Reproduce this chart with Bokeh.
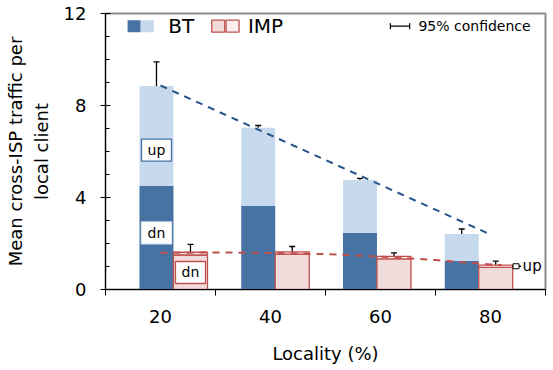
from bokeh.plotting import figure
from bokeh.models import FixedTicker, Range1d, Whisker, ColumnDataSource, TeeHead
from bokeh.core.properties import value
from bokeh.embed import file_html
from bokeh.resources import INLINE

# ---- data ----
locality = [20, 40, 60, 80]
bt_dn = [4.50, 3.64, 2.47, 1.24]
bt_up = [4.35, 3.39, 2.29, 1.17]
bt_lo = [7.88, 6.96, 4.70, 2.22]
bt_hi = [9.90, 7.13, 4.83, 2.63]
imp_dn = [1.50, 1.54, 1.33, 0.96]
imp_up = [0.12, 0.10, 0.11, 0.10]
imp_lo = [1.23, 1.38, 1.26, 0.89]
imp_hi = [1.96, 1.87, 1.59, 1.23]
bt_trend_x = [20, 80]
bt_trend_y = [8.87, 2.39]
imp_trend_x = [20, 30, 40, 50, 60, 70, 80, 82]
imp_trend_y = [1.59, 1.61, 1.59, 1.54, 1.43, 1.28, 1.09, 1.06]
y_ticks = [0, 4, 8, 12]
x_bounds = [10, 30, 50, 70, 90]

# ---- layout constants ----
FONT = "DejaVu Sans"
DARK = "#4673a3"
LIGHT = "#c6d9ed"
PINK = "#f2dcdb"
PINK_L = "#faeeee"
RED = "#c0504d"
BW = 6.18          # bar width (x units)
G0, GSTEP = 22.36, 0.925   # group centre = G0 + (loc-20)*GSTEP

grp = [G0 + (l - 20) * GSTEP for l in locality]
bt_x = [g - BW / 2 for g in grp]
imp_x = [g + BW / 2 for g in grp]
bt_tot = [a + b for a, b in zip(bt_dn, bt_up)]
imp_tot = [a + b for a, b in zip(imp_dn, imp_up)]

p = figure(width=547, height=366, x_range=Range1d(10, 90), y_range=Range1d(0, 12),
           output_backend="svg", toolbar_location=None,
           min_border_left=105, min_border_top=13, min_border_right=2, min_border_bottom=73)
p.xgrid.visible = False
p.ygrid.visible = False
p.outline_line_color = "#8c8c8c"
p.outline_line_width = 2
p.background_fill_color = "white"
p.border_fill_color = "white"

# bars
p.vbar(x=bt_x, bottom=0, top=bt_dn, width=BW, fill_color=DARK, line_color=None)
p.vbar(x=bt_x, bottom=bt_dn, top=bt_tot, width=BW, fill_color=LIGHT, line_color=None)
p.vbar(x=imp_x, bottom=0, top=imp_dn, width=BW, fill_color=PINK, line_color=RED, line_width=1.3)
p.vbar(x=imp_x, bottom=imp_dn, top=imp_tot, width=BW, fill_color=PINK_L, line_color=RED, line_width=1.3)

# trend lines
p.line(bt_trend_x, bt_trend_y, line_color="#24528a", line_width=2, line_dash="7 6")
p.line(imp_trend_x, imp_trend_y, line_color=RED, line_width=2, line_dash="7 6")

# error bars
for xs, lo, hi in [(bt_x, bt_lo, bt_hi), (imp_x, imp_lo, imp_hi)]:
    src = ColumnDataSource(dict(x=xs, lo=lo, hi=hi))
    p.add_layout(Whisker(source=src, base="x", lower="lo", upper="hi",
                         line_color="black", line_width=1.3,
                         lower_head=TeeHead(size=6, line_color="black", line_width=1.3),
                         upper_head=TeeHead(size=6, line_color="black", line_width=1.3)))

# in-bar annotations
ann_x = [bt_x[0], bt_x[0], imp_x[0]]
ann_y = [6.06, 2.46, 0.74]
ann_t = ["up", "dn", "dn"]
ann_c = [DARK, "#dfe8f3", RED]
p.rect(x=ann_x, y=ann_y, width=30, height=22, width_units="screen", height_units="screen",
       fill_color="white", line_color=ann_c, line_width=1.3)
p.text(x=ann_x, y=ann_y, text=ann_t, text_align="center", text_baseline="middle",
       text_font=value(FONT), text_font_size="14px", text_color="black")

# right 'up' callout for IMP top segment
cy = (imp_dn[3] + imp_tot[3]) / 2
cx0 = imp_x[3] + BW / 2
p.segment(x0=[cx0], y0=[cy], x1=[cx0 + 1.5], y1=[cy], line_color="black", line_width=1.3)
p.rect(x=[cx0 + 0.6], y=[cy], width=6, height=5, width_units="screen", height_units="screen",
       fill_color="white", line_color="black", line_width=1)
p.text(x=[cx0 + 1.8], y=[cy], text=["up"], text_align="left", text_baseline="middle",
       text_font=value(FONT), text_font_size="15px", text_color="black")

# legend
ly = 11.45
p.rect(x=[15.2, 17.6], y=[ly, ly], width=13, height=12, width_units="screen", height_units="screen",
       fill_color=[DARK, LIGHT], line_color=None)
p.rect(x=[30.5, 33.1], y=[ly, ly], width=13, height=12, width_units="screen", height_units="screen",
       fill_color=[PINK, PINK_L], line_color=RED, line_width=1.3)
p.text(x=[21.4, 35.9], y=[ly, ly], text=["BT", "IMP"], text_align="left", text_baseline="middle",
       text_font=value(FONT), text_font_size="20px", text_color="black")
csrc = ColumnDataSource(dict(y=[ly], lo=[61.8], hi=[65.3]))
p.add_layout(Whisker(source=csrc, base="y", lower="lo", upper="hi", dimension="width",
                     line_color="black", line_width=1.2,
                     lower_head=TeeHead(size=6, line_color="black", line_width=1.2),
                     upper_head=TeeHead(size=6, line_color="black", line_width=1.2)))
p.text(x=[66.9], y=[ly], text=["95% confidence"], text_align="left", text_baseline="middle",
       text_font=value(FONT), text_font_size="14px", text_color="black")

# axes
ya = p.yaxis[0]
ya.ticker = FixedTicker(ticks=y_ticks, minor_ticks=list(range(0, 13)))
ya.major_tick_in = 5
ya.major_tick_out = 5
ya.minor_tick_in = 4
ya.minor_tick_out = 0
ya.axis_line_color = "black"
ya.major_label_standoff = 14
ya.major_label_text_font = FONT
ya.major_label_text_font_size = "18px"
ya.major_label_text_color = "black"
ya.axis_label = "Mean cross-ISP traffic per\nlocal client"
ya.axis_label_text_font = FONT
ya.axis_label_text_font_size = "18px"
ya.axis_label_text_font_style = "normal"
ya.axis_label_text_color = "black"
ya.axis_label_standoff = 9

xa = p.xaxis[0]
xa.ticker = FixedTicker(ticks=locality, minor_ticks=x_bounds)
xa.major_tick_in = 0
xa.major_tick_out = 0
xa.minor_tick_in = 0
xa.minor_tick_out = 6
xa.minor_tick_line_color = "black"
xa.axis_line_color = "black"
xa.major_label_standoff = 14
xa.major_label_text_font = FONT
xa.major_label_text_font_size = "18px"
xa.major_label_text_color = "black"
xa.axis_label = "Locality (%)"
xa.axis_label_text_font = FONT
xa.axis_label_text_font_size = "18px"
xa.axis_label_text_font_style = "normal"
xa.axis_label_text_color = "black"
xa.axis_label_standoff = 17

open("out.html", "w").write(file_html(p, INLINE))
